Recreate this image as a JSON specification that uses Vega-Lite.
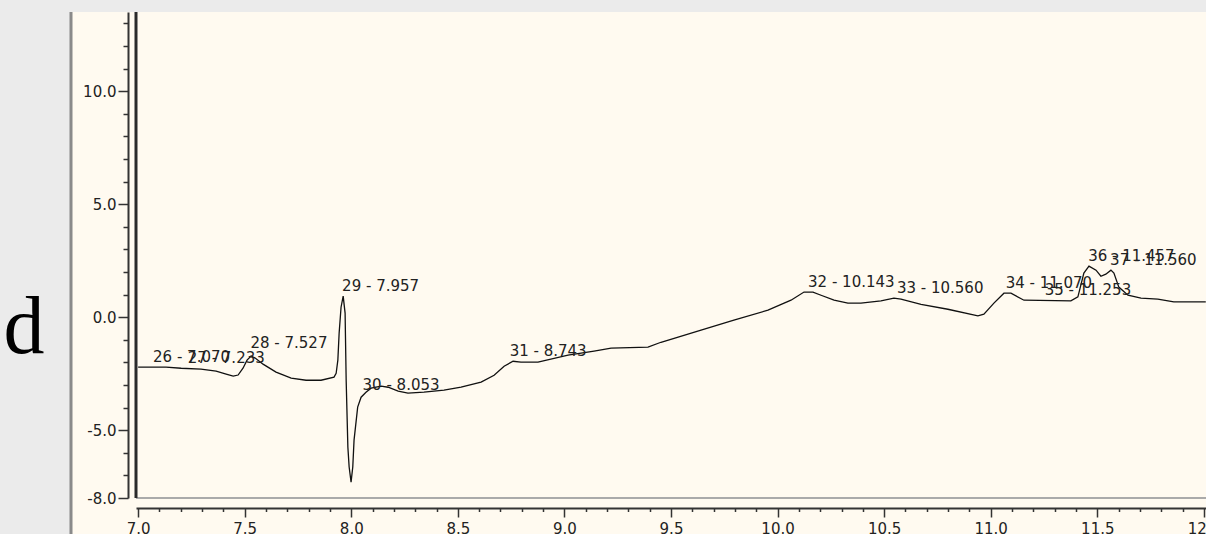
{
  "$schema": "https://vega.github.io/schema/vega-lite/v6.json",
  "description": "Chromatogram trace, panel d, with labelled peaks",
  "width": 1070,
  "height": 486,
  "autosize": {"type": "none"},
  "padding": {"left": 136, "top": 12, "right": 0, "bottom": 36},
  "background": "#ebebeb",
  "config": {
    "view": {"stroke": null, "fill": null},
    "axis": {"grid": false}
  },
  "datasets": {
    "trace": [
      {"rt": 7.000, "signal": -2.21}, {"rt": 7.131, "signal": -2.21}, {"rt": 7.202, "signal": -2.26},
      {"rt": 7.295, "signal": -2.30}, {"rt": 7.366, "signal": -2.39}, {"rt": 7.413, "signal": -2.52},
      {"rt": 7.446, "signal": -2.61}, {"rt": 7.469, "signal": -2.56}, {"rt": 7.492, "signal": -2.26},
      {"rt": 7.511, "signal": -1.90}, {"rt": 7.530, "signal": -1.72}, {"rt": 7.549, "signal": -1.81},
      {"rt": 7.586, "signal": -2.08}, {"rt": 7.647, "signal": -2.43}, {"rt": 7.718, "signal": -2.70},
      {"rt": 7.788, "signal": -2.79}, {"rt": 7.858, "signal": -2.79}, {"rt": 7.919, "signal": -2.65},
      {"rt": 7.929, "signal": -2.48}, {"rt": 7.937, "signal": -1.90}, {"rt": 7.943, "signal": -0.71},
      {"rt": 7.952, "signal": 0.44}, {"rt": 7.962, "signal": 0.93}, {"rt": 7.971, "signal": 0.18},
      {"rt": 7.976, "signal": -2.79}, {"rt": 7.984, "signal": -5.75}, {"rt": 7.990, "signal": -6.63},
      {"rt": 7.999, "signal": -7.30}, {"rt": 8.007, "signal": -6.63}, {"rt": 8.013, "signal": -5.44},
      {"rt": 8.030, "signal": -3.98}, {"rt": 8.046, "signal": -3.54}, {"rt": 8.069, "signal": -3.32},
      {"rt": 8.093, "signal": -3.14}, {"rt": 8.140, "signal": -3.05}, {"rt": 8.173, "signal": -3.10},
      {"rt": 8.220, "signal": -3.27}, {"rt": 8.266, "signal": -3.36}, {"rt": 8.341, "signal": -3.32},
      {"rt": 8.435, "signal": -3.23}, {"rt": 8.515, "signal": -3.10}, {"rt": 8.609, "signal": -2.87},
      {"rt": 8.670, "signal": -2.57}, {"rt": 8.717, "signal": -2.17}, {"rt": 8.759, "signal": -1.95},
      {"rt": 8.796, "signal": -1.99}, {"rt": 8.876, "signal": -1.99}, {"rt": 9.017, "signal": -1.68},
      {"rt": 9.139, "signal": -1.50}, {"rt": 9.219, "signal": -1.37}, {"rt": 9.392, "signal": -1.33},
      {"rt": 9.453, "signal": -1.11}, {"rt": 9.641, "signal": -0.57}, {"rt": 9.795, "signal": -0.13},
      {"rt": 9.955, "signal": 0.31}, {"rt": 10.063, "signal": 0.75}, {"rt": 10.124, "signal": 1.11},
      {"rt": 10.166, "signal": 1.11}, {"rt": 10.204, "signal": 0.97}, {"rt": 10.265, "signal": 0.75},
      {"rt": 10.330, "signal": 0.62}, {"rt": 10.391, "signal": 0.62}, {"rt": 10.485, "signal": 0.72},
      {"rt": 10.546, "signal": 0.84}, {"rt": 10.579, "signal": 0.80}, {"rt": 10.673, "signal": 0.57},
      {"rt": 10.799, "signal": 0.35}, {"rt": 10.940, "signal": 0.06}, {"rt": 10.968, "signal": 0.13},
      {"rt": 11.015, "signal": 0.62}, {"rt": 11.062, "signal": 1.06}, {"rt": 11.095, "signal": 1.06},
      {"rt": 11.156, "signal": 0.75}, {"rt": 11.376, "signal": 0.72}, {"rt": 11.409, "signal": 0.90},
      {"rt": 11.437, "signal": 1.95}, {"rt": 11.461, "signal": 2.26}, {"rt": 11.494, "signal": 2.08},
      {"rt": 11.517, "signal": 1.81}, {"rt": 11.540, "signal": 1.90}, {"rt": 11.564, "signal": 2.08},
      {"rt": 11.578, "signal": 1.95}, {"rt": 11.601, "signal": 1.33}, {"rt": 11.644, "signal": 0.97},
      {"rt": 11.705, "signal": 0.84}, {"rt": 11.784, "signal": 0.80}, {"rt": 11.859, "signal": 0.68},
      {"rt": 12.009, "signal": 0.68}
    ],
    "peaks": [
      {"label": "26 - 7.070", "rt": 7.070, "height": -2.21},
      {"label": "27 - 7.233", "rt": 7.233, "height": -2.27},
      {"label": "28 - 7.527", "rt": 7.527, "height": -1.60},
      {"label": "29 - 7.957", "rt": 7.957, "height": 0.93},
      {"label": "30 - 8.053", "rt": 8.053, "height": -3.45},
      {"label": "31 - 8.743", "rt": 8.743, "height": -1.95},
      {"label": "32 - 10.143", "rt": 10.143, "height": 1.13},
      {"label": "33 - 10.560", "rt": 10.560, "height": 0.84},
      {"label": "34 - 11.070", "rt": 11.070, "height": 1.06},
      {"label": "35 - 11.253", "rt": 11.253, "height": 0.74},
      {"label": "36 - 11.457", "rt": 11.457, "height": 2.26},
      {"label": "37 - 11.560", "rt": 11.560, "height": 2.10}
    ]
  },
  "resolve": {"axis": {"x": "independent", "y": "independent"}},
  "layer": [
    {
      "data": {"values": [{}]},
      "mark": {"type": "rect", "fill": "#fffaf0", "clip": false},
      "encoding": {
        "x": {"datum": 6.69, "type": "quantitative", "axis": null},
        "x2": {"datum": 12.2},
        "y": {"datum": 13.5, "type": "quantitative", "axis": null},
        "y2": {"datum": -10.5}
      }
    },
    {
      "data": {"values": [{}]},
      "mark": {"type": "rule", "color": "#8a8a8a", "strokeWidth": 3, "clip": false},
      "encoding": {
        "x": {"datum": 6.685, "type": "quantitative", "axis": null},
        "y": {"datum": 13.5, "type": "quantitative", "axis": null},
        "y2": {"datum": -10.5}
      }
    },
    {
      "data": {"values": [{}]},
      "mark": {"type": "rule", "color": "#aaaaaa", "strokeWidth": 2},
      "encoding": {"y": {"datum": -8, "type": "quantitative", "axis": null}}
    },
    {
      "data": {"values": [{}]},
      "mark": {"type": "rule", "color": "#2a2a2a", "strokeWidth": 3},
      "encoding": {"x": {"datum": 6.99, "type": "quantitative", "axis": null}}
    },
    {
      "data": {"name": "trace"},
      "mark": {"type": "line", "color": "#111111", "strokeWidth": 1.3},
      "encoding": {
        "x": {
          "field": "rt",
          "type": "quantitative",
          "scale": {"domain": [6.99, 12.01], "nice": false, "zero": false},
          "axis": {
            "orient": "bottom",
            "offset": 10,
            "zindex": 1,
            "title": null,
            "values": [7.0, 7.5, 8.0, 8.5, 9.0, 9.5, 10.0, 10.5, 11.0, 11.5, 12.0],
            "format": ".1f",
            "labelFont": "DejaVu Sans",
            "labelFontSize": 15,
            "labelColor": "#222222",
            "labelPadding": 4,
            "labelOverlap": false,
            "labelFlush": false,
            "domainColor": "#333333",
            "domainWidth": 2,
            "tickColor": "#333333",
            "tickWidth": 1.5,
            "tickSize": 9
          }
        },
        "y": {
          "field": "signal",
          "type": "quantitative",
          "scale": {"domain": [-8, 13.5], "nice": false, "zero": false},
          "axis": {
            "orient": "left",
            "offset": 8,
            "zindex": 1,
            "title": "d",
            "titleAngle": 0,
            "titleFont": "Liberation Serif",
            "titleFontSize": 82,
            "titleFontWeight": "normal",
            "titleColor": "#000000",
            "titleAlign": "left",
            "titleBaseline": "alphabetic",
            "titleX": -125,
            "titleY": 340,
            "values": [-8, -5, 0, 5, 10],
            "labelExpr": "replace(format(datum.value, '.1f'), '−', '-')",
            "labelFont": "DejaVu Sans",
            "labelFontSize": 15,
            "labelColor": "#222222",
            "labelPadding": 2,
            "labelOverlap": false,
            "labelFlush": false,
            "domainColor": "#333333",
            "domainWidth": 2,
            "tickColor": "#333333",
            "tickWidth": 1.5,
            "tickSize": 10
          }
        }
      }
    },
    {
      "data": {"name": "peaks"},
      "mark": {
        "type": "text",
        "align": "left",
        "baseline": "alphabetic",
        "dy": -5,
        "font": "DejaVu Sans",
        "fontSize": 15,
        "color": "#222222"
      },
      "encoding": {
        "x": {
          "field": "rt",
          "type": "quantitative",
          "axis": {
            "orient": "bottom",
            "offset": 10,
            "zindex": 1,
            "title": null,
            "domain": false,
            "labels": false,
            "values": [7.1, 7.2, 7.3, 7.4, 7.6, 7.7, 7.8, 7.9, 8.1, 8.2, 8.3, 8.4, 8.6, 8.7, 8.8, 8.9, 9.1, 9.2, 9.3, 9.4, 9.6, 9.7, 9.8, 9.9, 10.1, 10.2, 10.3, 10.4, 10.6, 10.7, 10.8, 10.9, 11.1, 11.2, 11.3, 11.4, 11.6, 11.7, 11.8, 11.9],
            "tickColor": "#333333",
            "tickWidth": 1.5,
            "tickSize": 3.5
          }
        },
        "y": {
          "field": "height",
          "type": "quantitative",
          "axis": {
            "orient": "left",
            "offset": 8,
            "zindex": 1,
            "title": null,
            "domain": false,
            "labels": false,
            "values": [-7, -6, -4, -3, -2, -1, 1, 2, 3, 4, 6, 7, 8, 9, 11, 12, 13],
            "tickColor": "#333333",
            "tickWidth": 1.5,
            "tickSize": 5
          }
        },
        "text": {"field": "label"}
      }
    }
  ]
}
